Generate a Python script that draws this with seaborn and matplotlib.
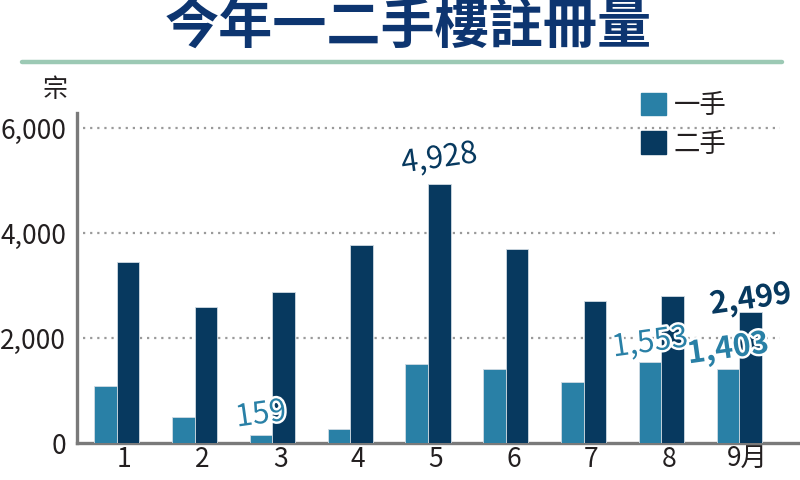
import pandas as pd
import matplotlib
matplotlib.use("Agg")
import matplotlib.pyplot as plt
import matplotlib.patheffects as pe
from matplotlib.lines import Line2D
import seaborn as sns

# data
months = ['1', '2', '3', '4', '5', '6', '7', '8', '9月']
first_hand = [1090, 495, 159, 267, 1505, 1410, 1162, 1553, 1403]
second_hand = [3453, 2597, 2882, 3765, 4928, 3701, 2705, 2806, 2499]
series = ['一手', '二手']
y_ticks = [0, 2000, 4000, 6000]

LIGHT = '#2980a6'
DARK = '#07395f'
TEXT = '#231f20'

df = pd.DataFrame({
    'month': months * 2,
    'count': first_hand + second_hand,
    'type': [series[0]] * len(months) + [series[1]] * len(months),
})

sns.set_style('white')
plt.rcParams['font.family'] = ['Noto Sans CJK TC', 'DejaVu Sans']

fig = plt.figure(figsize=(8, 4.8), dpi=100)
ax = fig.add_axes([77 / 800, 37 / 480, 723 / 800, 330 / 480])

sns.barplot(data=df, x='month', y='count', hue='type', order=months,
            hue_order=series, palette=[LIGHT, DARK], width=0.58,
            saturation=1, edgecolor='#d0dbe3', linewidth=0.6, ax=ax, zorder=3)

ax.set_xlim(-0.51, 8.78)
ax.set_ylim(0, 6290)

# dotted grid, stops short of the right edge
ax.hlines(y_ticks[1:], 0.008, 0.972, transform=ax.get_yaxis_transform(),
          colors='#9a9a9a', linestyles=(0, (1, 2.2)), linewidth=1.6, zorder=1)

ax.set_yticks(y_ticks)
ax.set_yticklabels([f'{v:,}' for v in y_ticks], fontsize=19, color=TEXT)
ax.set_xticks([i + 0.1 for i in range(len(months))])
ax.set_xticklabels(months, fontsize=19, color=TEXT)
ax.tick_params(axis='both', length=0)
ax.tick_params(axis='y', pad=8)
ax.tick_params(axis='x', pad=2)
ax.set_xlabel('')
ax.set_ylabel('')

for side in ['top', 'right']:
    ax.spines[side].set_visible(False)
for side in ['left', 'bottom']:
    ax.spines[side].set_color('#7a7a7a')
    ax.spines[side].set_linewidth(2.4)

# legend
handles = [plt.Rectangle((0, 0), 1, 1, color=c) for c in [LIGHT, DARK]]
leg = ax.legend(handles, series, loc='upper left', bbox_to_anchor=(641 / 800, 1 - 92 / 480),
                bbox_transform=fig.transFigure, frameon=False, fontsize=19,
                handlelength=0.95, handleheight=0.95, handletextpad=0.3,
                labelspacing=0.45, borderpad=0, borderaxespad=0)
for t in leg.get_texts():
    t.set_color(TEXT)

# value labels with white outline
outline = [pe.withStroke(linewidth=3.5, foreground='white')]
labels = [
    (2, first_hand[2], -0.145, LIGHT, 'normal', (0, 1)),
    (4, second_hand[4], 0.145, DARK, 'normal', (0, 5)),
    (7, first_hand[7], -0.145, LIGHT, 'normal', (0, -2)),
    (8, first_hand[8], -0.145, LIGHT, 'bold', (0, -1)),
    (8, second_hand[8], 0.145, DARK, 'bold', (0, -9)),
]
for idx, val, dx, col, wt, off in labels:
    ax.annotate(f'{val:,}', (idx + dx, val), xytext=off, textcoords='offset pixels',
                ha='center', va='bottom', fontsize=22, color=col, fontweight=wt,
                rotation=8, path_effects=outline, zorder=5)

# unit label
fig.text(55 / 800, 1 - 90 / 480, '宗', fontsize=18, color=TEXT, ha='center', va='center')

# title and green rule
fig.text(0.51, 1 - 27 / 480, '今年一二手樓註冊量', fontsize=39, fontweight='bold',
         color='#0d3570', ha='center', va='center')
fig.add_artist(Line2D([22 / 800, 782 / 800], [1 - 62 / 480, 1 - 62 / 480],
                      transform=fig.transFigure, color='#9cc9b4', linewidth=3.2,
                      solid_capstyle='round'))

fig.savefig('out.png', dpi=100)
